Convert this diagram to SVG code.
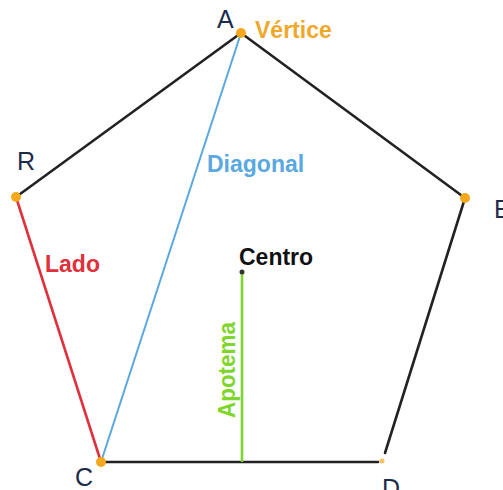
<svg xmlns="http://www.w3.org/2000/svg" width="503" height="490" viewBox="0 0 503 490">
<style>
.edge{stroke:#222;stroke-width:2.6;fill:none;stroke-linecap:round}
.vtx{fill:#f5a81c}
.lbl{font-family:"Liberation Sans",Arial,sans-serif;font-weight:bold;font-size:23px}
.pt{font-family:"Liberation Sans",Arial,sans-serif;font-size:25px;fill:#1c2b4a}
</style>
<rect width="503" height="490" fill="#fff"/>
<g id="connectors">
  <line class="edge" x1="241" y1="33" x2="16" y2="197"/>
  <line class="edge" x1="241" y1="33" x2="465" y2="198"/>
  <line class="edge" x1="465" y1="198" x2="385" y2="453"/>
  <line class="edge" x1="101" y1="462" x2="378" y2="462"/>
  <line x1="16" y1="197" x2="101" y2="462" stroke="#e0303c" stroke-width="2.6"/>
  <line x1="241" y1="33" x2="101" y2="462" stroke="#5aa8e0" stroke-width="2"/>
  <line x1="242" y1="274" x2="242" y2="462" stroke="#7ed62a" stroke-width="2.6"/>
</g>
<g id="A">
  <circle class="vtx" cx="241" cy="33" r="5"/>
  <text class="pt" x="217" y="28">A</text>
  <text class="lbl" x="255" y="38" fill="#efa82a">Vértice</text>
</g>
<g id="B">
  <circle class="vtx" cx="16" cy="197" r="5"/>
  <text class="pt" x="17" y="170">R</text>
</g>
<g id="C">
  <circle class="vtx" cx="101" cy="462" r="5"/>
  <text class="pt" x="75" y="486" font-size="27">C</text>
</g>
<g id="D">
  <circle cx="382" cy="461" r="2.5" fill="#f5c060"/>
  <text class="pt" x="382" y="497" font-size="27">D</text>
</g>
<g id="E">
  <circle class="vtx" cx="465" cy="198" r="5"/>
  <text class="pt" x="494" y="218">E</text>
</g>
<g id="centro">
  <circle cx="242" cy="272" r="2.5" fill="#333"/>
  <text class="lbl" x="239" y="265" fill="#111">Centro</text>
</g>
<g id="lado">
  <text class="lbl" x="45" y="272" fill="#e0303c">Lado</text>
</g>
<g id="diagonal">
  <text class="lbl" x="207" y="172" fill="#5aa8e0">Diagonal</text>
</g>
<g id="apotema">
  <text class="lbl" transform="translate(235,370) rotate(-90)" x="0" y="0" text-anchor="middle" font-size="18" textLength="96" lengthAdjust="spacingAndGlyphs" fill="#7ed62a">Apotema</text>
</g>
</svg>
